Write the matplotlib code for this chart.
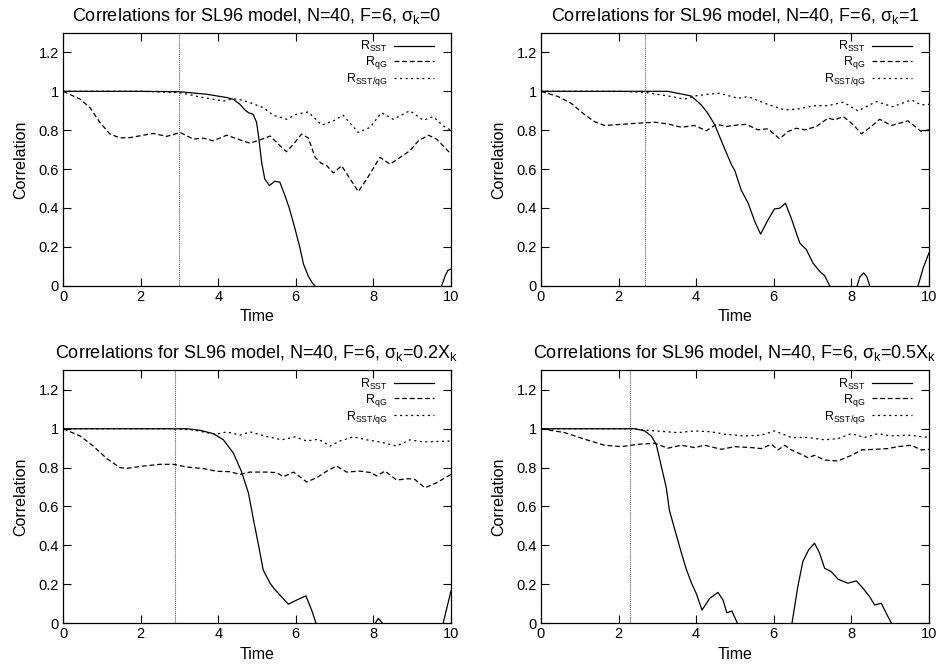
import numpy as np
import matplotlib
matplotlib.use("Agg")
import matplotlib.pyplot as plt

nan = np.nan

# ---- panel 1 : sigma_k = 0
sst0_t = [0, 1, 2, 3, 3.7, 4.22, 4.39, 4.56, 4.69, 4.78, 4.9, 4.99, 5.05, 5.12, 5.2, 5.32, 5.46, 5.59,
          5.72, 5.83, 5.97, 6.1, 6.2, 6.32, 6.42, 6.49, 8.0, 9.76, 9.85, 9.92, 10]
sst0_r = [1, 1, 1, 0.998, 0.985, 0.968, 0.959, 0.933, 0.904, 0.89, 0.882, 0.84, 0.754, 0.634, 0.549, 0.515, 0.537, 0.532,
          0.463, 0.4, 0.3, 0.2, 0.11, 0.05, 0.015, 0.0, nan, 0.0, 0.05, 0.078, 0.085]
qg0_t = [0, 0.44, 0.7, 0.95, 1.21, 1.47, 1.73, 2.07, 2.33, 2.67, 3.02, 3.36, 3.62, 3.87, 4.22, 4.56, 4.82,
         5.08, 5.34, 5.55, 5.76, 5.94, 6.15, 6.32, 6.5, 6.65, 6.8, 6.97, 7.18, 7.4, 7.61, 7.83, 8.17, 8.43,
         8.69, 8.94, 9.16, 9.42, 9.63, 10]
qg0_r = [1.0, 0.96, 0.915, 0.84, 0.78, 0.76, 0.762, 0.774, 0.783, 0.768, 0.788, 0.754, 0.759, 0.745, 0.774, 0.75, 0.733,
         0.75, 0.77, 0.728, 0.689, 0.728, 0.78, 0.76, 0.66, 0.63, 0.617, 0.58, 0.617, 0.549, 0.484, 0.549, 0.66, 0.625,
         0.66, 0.694, 0.745, 0.774, 0.754, 0.677]
ssq0_t = [0, 1, 2, 3.02, 3.53, 3.87, 4.13, 4.39, 4.6, 4.82, 5.16, 5.42, 5.76, 6.02, 6.32, 6.67, 6.97, 7.22,
          7.61, 7.91, 8.21, 8.51, 8.94, 9.29, 9.54, 9.8, 10]
ssq0_r = [1, 1, 1, 0.993, 0.971, 0.959, 0.95, 0.962, 0.955, 0.942, 0.916, 0.877, 0.856, 0.882, 0.894, 0.826, 0.848, 0.877,
          0.788, 0.814, 0.89, 0.856, 0.9, 0.851, 0.87, 0.822, 0.8]

# ---- panel 2 : sigma_k = 1
sst1_t = [0, 1, 2, 3, 3.27, 3.62, 3.87, 4.13, 4.3, 4.48, 4.69, 4.91, 5.0, 5.16, 5.34, 5.51, 5.66, 5.85, 6.02,
          6.15, 6.3, 6.45, 6.67, 6.84, 7.01, 7.18, 7.31, 7.44, 7.8, 8.15, 8.22, 8.32, 8.4, 8.47, 9.0, 9.72, 9.85, 10]
sst1_r = [1, 1, 1, 1, 1.0, 0.986, 0.976, 0.93, 0.887, 0.827, 0.725, 0.622, 0.59, 0.492, 0.424, 0.33, 0.265, 0.338, 0.395,
          0.398, 0.424, 0.347, 0.219, 0.185, 0.116, 0.074, 0.051, 0.0, nan, 0.0, 0.045, 0.065, 0.045, 0.0, nan, 0.0, 0.09, 0.168]
qg1_t = [0, 0.44, 0.78, 1.13, 1.38, 1.64, 2.07, 2.5, 2.93, 3.27, 3.62, 3.96, 4.26, 4.52, 4.78, 5.08, 5.29,
         5.59, 5.85, 6.15, 6.37, 6.58, 6.8, 7.1, 7.4, 7.57, 7.79, 8.04, 8.26, 8.51, 8.73, 9.03, 9.46, 9.8, 10]
qg1_r = [1.0, 0.973, 0.938, 0.879, 0.844, 0.824, 0.83, 0.836, 0.841, 0.832, 0.815, 0.824, 0.797, 0.83, 0.819, 0.827, 0.83,
         0.802, 0.807, 0.756, 0.793, 0.81, 0.802, 0.819, 0.862, 0.853, 0.87, 0.83, 0.781, 0.819, 0.856, 0.824, 0.848, 0.793, 0.802]
ssq1_t = [0, 1, 2, 2.67, 3.36, 3.7, 3.96, 4.3, 4.6, 5.08, 5.34, 5.77, 6.28, 6.62, 7.05, 7.4, 7.79, 8.17, 8.64,
          9.07, 9.55, 9.8, 10]
ssq1_r = [1, 1, 1, 0.995, 0.973, 0.96, 0.976, 0.985, 0.99, 0.964, 0.973, 0.938, 0.904, 0.909, 0.926, 0.926, 0.944, 0.899, 0.947,
          0.921, 0.956, 0.93, 0.933]

# ---- panel 3 : sigma_k = 0.2 X_k
sst2_t = [0, 1, 2, 3, 3.19, 3.53, 3.87, 4.13, 4.39, 4.6, 4.78, 4.91, 5.04, 5.16, 5.34, 5.45, 5.59, 5.81, 6.02,
          6.26, 6.41, 6.52, 7.0, 8.05, 8.13, 8.23, 9.0, 9.8, 10]
sst2_r = [1, 1, 1, 1, 1.0, 0.992, 0.975, 0.944, 0.875, 0.78, 0.669, 0.531, 0.4, 0.273, 0.204, 0.175, 0.144, 0.097, 0.118,
          0.14, 0.066, 0.0, nan, 0.0, 0.024, 0.0, nan, 0.0, 0.166]
qg2_t = [0, 0.44, 0.78, 1.13, 1.47, 1.64, 2.07, 2.5, 2.84, 3.19, 3.62, 3.96, 4.3, 4.56, 4.82, 5.25, 5.51,
         5.68, 5.94, 6.28, 6.54, 6.8, 7.05, 7.31, 7.65, 7.95, 8.08, 8.3, 8.6, 8.9, 9.07, 9.33, 9.63, 10]
qg2_r = [1.0, 0.963, 0.911, 0.846, 0.8, 0.796, 0.808, 0.817, 0.817, 0.803, 0.795, 0.781, 0.779, 0.765, 0.777, 0.777, 0.774,
         0.753, 0.777, 0.726, 0.748, 0.782, 0.808, 0.777, 0.782, 0.774, 0.757, 0.782, 0.736, 0.743, 0.739, 0.696, 0.722, 0.765]
ssq2_t = [0, 1, 2, 2.84, 3.36, 3.7, 3.96, 4.22, 4.56, 4.82, 5.25, 5.64, 5.98, 6.28, 6.58, 6.88, 7.14, 7.48,
          7.83, 8.17, 8.6, 8.94, 9.29, 10]
ssq2_r = [1, 1, 1, 1.0, 0.994, 0.98, 0.972, 0.984, 0.967, 0.984, 0.96, 0.943, 0.958, 0.937, 0.946, 0.911, 0.937, 0.958,
          0.943, 0.932, 0.911, 0.943, 0.932, 0.937]

# ---- panel 4 : sigma_k = 0.5 X_k
sst3_t = [0, 1, 2, 2.42, 2.67, 2.84, 2.97, 3.1, 3.23, 3.31, 3.45, 3.62, 3.75, 3.88, 4.0, 4.15, 4.35, 4.56, 4.69,
          4.79, 4.92, 5.06, 5.8, 6.47, 6.62, 6.75, 6.9, 7.05, 7.18, 7.31, 7.48, 7.66, 7.91, 8.13, 8.3, 8.47, 8.6,
          8.77, 8.9, 9.03]
sst3_r = [1, 1, 1, 1.0, 0.989, 0.963, 0.92, 0.808, 0.696, 0.58, 0.48, 0.36, 0.274, 0.205, 0.153, 0.067, 0.127, 0.158, 0.119,
          0.053, 0.062, 0.0, nan, 0.0, 0.188, 0.317, 0.377, 0.411, 0.36, 0.282, 0.265, 0.225, 0.205, 0.217, 0.179, 0.136, 0.093,
          0.102, 0.05, 0.0]
qg3_t = [0, 0.61, 1.13, 1.64, 2.07, 2.5, 2.93, 3.27, 3.62, 3.96, 4.22, 4.65, 4.99, 5.42, 5.68, 5.94, 6.11,
         6.28, 6.45, 6.71, 6.88, 7.05, 7.31, 7.65, 8.0, 8.26, 8.6, 8.94, 9.2, 9.55, 9.8, 10]
qg3_r = [1.0, 0.98, 0.946, 0.915, 0.908, 0.92, 0.925, 0.9, 0.915, 0.903, 0.915, 0.894, 0.908, 0.903, 0.898, 0.92, 0.891,
         0.915, 0.891, 0.868, 0.851, 0.863, 0.839, 0.834, 0.863, 0.891, 0.894, 0.898, 0.908, 0.915, 0.891, 0.894]
ssq3_t = [0, 1, 2, 2.33, 2.93, 3.53, 3.96, 4.39, 4.73, 5.25, 5.68, 6.02, 6.45, 6.88, 7.31, 7.65, 8.0, 8.34,
          8.69, 9.03, 9.46, 10]
ssq3_r = [1, 1, 1, 1.0, 0.989, 0.98, 0.989, 0.984, 0.972, 0.963, 0.967, 0.989, 0.955, 0.955, 0.943, 0.949, 0.975, 0.955,
          0.975, 0.963, 0.967, 0.955]

t_mark = [3.0, 2.67, 2.88, 2.29]
sigma_txt = ["0", "1", "0.2X$_k$", "0.5X$_k$"]

panels = [
    (sst0_t, sst0_r, qg0_t, qg0_r, ssq0_t, ssq0_r),
    (sst1_t, sst1_r, qg1_t, qg1_r, ssq1_t, ssq1_r),
    (sst2_t, sst2_r, qg2_t, qg2_r, ssq2_t, ssq2_r),
    (sst3_t, sst3_r, qg3_t, qg3_r, ssq3_t, ssq3_r),
]

plt.rcParams['font.family'] = ['Liberation Sans', 'DejaVu Sans']
plt.rcParams['mathtext.default'] = 'regular'
plt.rcParams['lines.scale_dashes'] = False

fig, axes = plt.subplots(2, 2, figsize=(9.46, 6.7), dpi=100)
fig.subplots_adjust(left=0.0666, right=0.982, top=0.9507, bottom=0.0701, wspace=0.232, hspace=0.336)

for i, ax in enumerate(axes.flat):
    a_t, a_r, b_t, b_r, c_t, c_r = panels[i]
    ax.plot(a_t, a_r, color='black', lw=0.9, ls='-', label='R$_{SST}$')
    ax.plot(b_t, b_r, color='black', lw=0.9, ls=(0, (3.5, 2)), label='R$_{qG}$')
    ax.plot(c_t, c_r, color='black', lw=0.9, ls=(0, (1.5, 2.5)), label='R$_{SST/qG}$')
    ax.axvline(t_mark[i], color='0.3', lw=0.8, ls=(0, (0.7, 0.7)))

    ax.set_xlim(0, 10)
    ax.set_ylim(0, 1.3)
    ax.set_xticks([0, 2, 4, 6, 8, 10])
    ax.set_yticks([0, 0.2, 0.4, 0.6, 0.8, 1.0, 1.2])
    ax.set_yticklabels(['0', '0.2', '0.4', '0.6', '0.8', '1', '1.2'])
    ax.tick_params(direction='in', top=True, right=True, length=6, width=0.8, labelsize=10.5, pad=3)
    for s in ax.spines.values():
        s.set_linewidth(0.9)

    ax.set_xlabel('Time', fontsize=11.5, labelpad=4)
    ax.set_ylabel('Correlation', fontsize=11.5, labelpad=7.5)
    ax.set_title('Correlations for SL96 model, N=40, F=6, σ$_k$=' + sigma_txt[i], fontsize=13, pad=9)

    ax.legend(loc='upper right', bbox_to_anchor=(0.956, 0.975), frameon=False, markerfirst=False,
              fontsize=9, handlelength=3.2, handletextpad=0.5, labelspacing=0.0,
              borderpad=0, borderaxespad=0)

fig.savefig('out.png', dpi=100)
